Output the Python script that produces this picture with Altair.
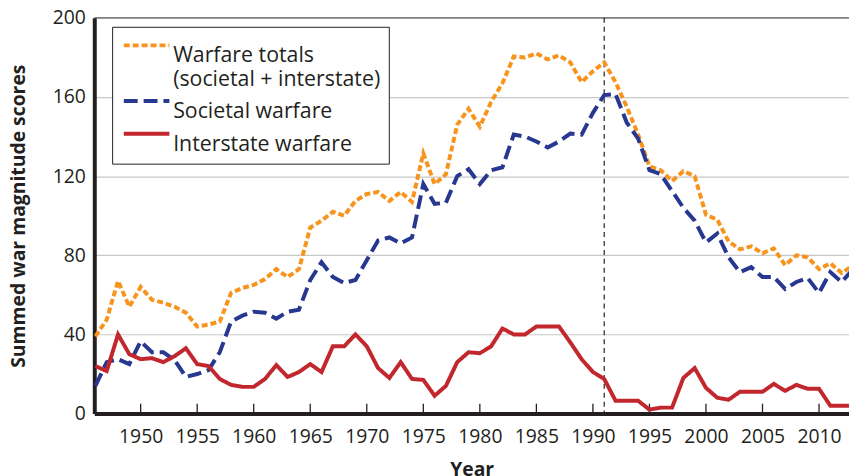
import altair as alt
import pandas as pd

years = list(range(1946, 2014))

warfare_totals = [
    39, 47.5, 67, 54, 64, 57.5, 56, 54, 51, 44,
    45, 46.5, 61, 63.5, 65, 68, 73, 69, 73, 94,
    97.5, 102, 100, 107.5, 111, 112, 107.5, 112, 107, 131.5,
    116, 121, 146, 154, 145, 157.5, 167, 180.5, 180, 182,
    179, 181, 177.5, 167.5, 173, 177.5, 167.5, 155, 141, 125,
    123, 117.5, 122.5, 120, 100.5, 98, 87, 83, 84.5, 81,
    83.5, 75, 80, 79, 73, 76, 71, 75,
]

societal = [
    14, 26, 27.5, 25, 36.5, 31, 31, 27, 18.5, 20,
    22, 31, 46.5, 49.5, 51.5, 51, 48, 51.5, 52.5, 67.5,
    76.5, 69, 66, 67.5, 77.5, 87.5, 89, 86, 89, 116,
    106, 106.5, 120, 123.5, 116, 123, 124.5, 141, 140, 137.5,
    134.5, 137.5, 141.5, 141, 152, 161, 161.5, 147, 139, 123,
    121, 112.5, 104, 97.5, 86.5, 91, 79, 71.5, 74, 69,
    69, 63, 66.5, 68.5, 61, 71.5, 66.5, 73,
]

interstate = [
    24, 21.5, 40, 30, 27.5, 28, 26, 29, 33, 25,
    24, 17.5, 14.5, 13.5, 13.5, 17.5, 24.5, 18.5, 21, 25,
    21, 34, 34, 40, 34, 23, 18, 26, 17.5, 17,
    9, 14, 26, 31, 30.5, 34, 43, 40, 40, 44,
    44, 44, 36, 27.5, 21, 17.5, 6.5, 6.5, 6.5, 2,
    3, 3, 18, 23, 13, 8, 7, 11, 11, 11,
    15, 11.5, 14.5, 12.5, 12.5, 4, 4, 4,
]

series_names = [
    "Warfare totals (societal + interstate)",
    "Societal warfare",
    "Interstate warfare",
]
series_colors = ["#F7941D", "#283891", "#C1272D"]
series_dashes = [[6, 3], [14, 6], [1, 0]]

x_ticks = list(range(1950, 2011, 5))
y_ticks = [0, 40, 80, 120, 160, 200]
marker_year = 1991

rows = []
for name, vals in zip(series_names, [warfare_totals, societal, interstate]):
    for yr, v in zip(years, vals):
        rows.append({"Year": yr, "value": v, "series": name})
df = pd.DataFrame(rows)

x_scale = alt.Scale(domain=[1945.9, 2012.65], nice=False, zero=False)
y_scale = alt.Scale(domain=[0, 200], nice=False)

lines = alt.Chart(df).mark_line(clip=True, strokeWidth=4, strokeCap="butt").encode(
    x=alt.X("Year:Q", scale=x_scale,
            axis=alt.Axis(values=x_ticks, format="d", grid=False, ticks=False,
                          domainColor="#231f20", domainWidth=4,
                          labelFontSize=19.5, labelPadding=14, labelColor="#231f20",
                          title="Year", titleFontSize=19.5, titleFontWeight="bold",
                          titleColor="#231f20", titlePadding=15)),
    y=alt.Y("value:Q", scale=y_scale,
            axis=alt.Axis(values=y_ticks, grid=True, gridColor="#c8c8c8", gridWidth=1.2,
                          ticks=False, domainColor="#231f20", domainWidth=4,
                          labelFontSize=19.5, labelPadding=9, labelColor="#231f20",
                          title="Summed war magnitude scores", titleFontSize=19.5,
                          titleFontWeight="bold", titleColor="#231f20", titlePadding=24)),
    color=alt.Color("series:N",
                    scale=alt.Scale(domain=series_names, range=series_colors),
                    legend=alt.Legend(title=None, orient="none", legendX=18, legendY=9,
                                      strokeColor="#231f20", fillColor="white",
                                      padding=8, symbolType="M-3.5,0H19.5", symbolSize=16,
                                      symbolStrokeWidth=4, labelOffset=32,
                                      labelFontSize=21.5, labelColor="#231f20",
                                      labelLimit=400, labelBaseline="top",
                                      rowPadding=0,
                                      labelExpr="datum.label == 'Warfare totals (societal + interstate)' ? ['Warfare totals', '(societal + interstate)'] : datum.label")),
    strokeDash=alt.StrokeDash("series:N",
                              scale=alt.Scale(domain=series_names, range=series_dashes),
                              legend=None),
    order=alt.Order("Year:Q"),
)

tick_df = pd.DataFrame({"Year": x_ticks})
ticks = alt.Chart(tick_df).mark_rule(color="#231f20", strokeWidth=1.3).encode(
    x=alt.X("Year:Q", scale=x_scale),
    y=alt.datum(0, scale=y_scale),
    y2=alt.datum(5),
)

top_border = alt.Chart(pd.DataFrame({"v": [200]})).mark_rule(color="#444", strokeWidth=1).encode(
    y=alt.Y("v:Q", scale=y_scale)
)

vline = alt.Chart(pd.DataFrame({"Year": [marker_year]})).mark_rule(
    color="#231f20", strokeWidth=1.2, strokeDash=[5, 4]
).encode(x=alt.X("Year:Q", scale=x_scale))

chart = alt.layer(top_border, vline, ticks, lines).properties(
    width=761, height=399,
    autosize=alt.AutoSizeParams(type="none"),
    padding={"left": 87, "top": 8, "right": 0, "bottom": 61},
).configure(font="Open Sans").configure_view(stroke=None)

chart.save("out.html", embed_options={"renderer": "svg", "actions": False})
